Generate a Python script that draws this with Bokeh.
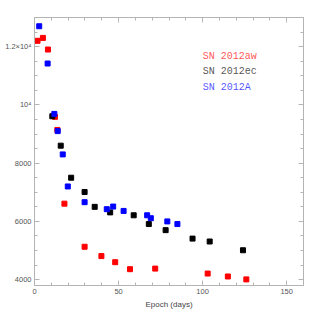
from bokeh.plotting import figure
from bokeh.models import LinearAxis, FixedTicker, Range1d, Label, ColumnDataSource
from bokeh.embed import file_html
from bokeh.resources import INLINE
import math

# ---- data ----
aw_epoch = [1.8, 5.0, 8.0, 12.2, 13.6, 17.8, 29.8, 39.8, 48.0, 56.8, 71.8, 103.0, 115.0, 126.0]
aw_temp = [12200, 12300, 11900, 9590, 9140, 6610, 5130, 4810, 4600, 4360, 4380, 4210, 4110, 4010]

ec_epoch = [10.6, 15.6, 21.8, 29.8, 35.8, 45.0, 59.0, 68.0, 78.0, 94.0, 104.2, 124.0]
ec_temp = [9610, 8600, 7500, 7010, 6500, 6310, 6210, 5910, 5700, 5410, 5310, 5010]

a_epoch = [2.8, 7.8, 11.8, 13.8, 16.8, 19.8, 29.8, 43.0, 46.8, 53.0, 67.0, 69.2, 79.0, 85.0]
a_temp = [12700, 11420, 9690, 9100, 8300, 7200, 6660, 6420, 6510, 6360, 6210, 6110, 6000, 5910]

series_names = ["SN 2012aw", "SN 2012ec", "SN 2012A"]
series_colors = ["#ff0000", "#000000", "#0000ff"]

x_ticks = [0, 50, 100, 150]
x_tick_labels = ["0", "50", "100", "150"]
x_minor = list(range(0, 161, 10))
y_ticks = [4000, 6000, 8000, 10000, 12000]
y_tick_labels = ["4000", "6000", "8000", "10\u2074", "1.2\u00d710\u2074"]
y_minor = list(range(4000, 13001, 500))

AX = "#b4b4b4"
TXT = "#555555"
FONT = "Liberation Sans"

p = figure(width=311, height=311, output_backend="svg", toolbar_location=None,
           x_range=Range1d(0, 160), y_range=Range1d(3800, 13000),
           min_border_left=34, min_border_right=8, min_border_top=17, min_border_bottom=26)
p.grid.visible = False
p.outline_line_color = None
p.background_fill_color = "white"
p.border_fill_color = "white"

bottom = p.below[0]
left = p.left[0]

xt = FixedTicker(ticks=x_ticks, minor_ticks=x_minor)
yt = FixedTicker(ticks=y_ticks, minor_ticks=y_minor)

top = LinearAxis(ticker=xt)
right = LinearAxis(ticker=yt)
p.add_layout(top, "above")
p.add_layout(right, "right")
bottom.ticker = xt
left.ticker = yt

for ax in [bottom, left, top, right]:
    ax.axis_line_color = AX
    ax.axis_line_width = 1
    ax.major_tick_line_color = AX
    ax.minor_tick_line_color = AX
    ax.major_tick_in = 5
    ax.major_tick_out = 0
    ax.minor_tick_in = 3
    ax.minor_tick_out = 0
    ax.major_label_text_font = FONT
    ax.major_label_text_font_size = "7.5px"
    ax.major_label_text_color = TXT
    ax.major_label_standoff = 3

top.major_label_overrides = {t: "" for t in x_ticks}
right.major_label_overrides = {t: "" for t in y_ticks}
top.major_label_standoff = 0
right.major_label_standoff = 0

bottom.major_label_overrides = {t: l for t, l in zip(x_ticks, x_tick_labels)}
left.major_label_overrides = {t: l for t, l in zip(y_ticks, y_tick_labels)}

bottom.axis_label = "Epoch (days)"
bottom.axis_label_text_font = FONT
bottom.axis_label_text_font_size = "8px"
bottom.axis_label_text_font_style = "normal"
bottom.axis_label_text_color = "#444444"
bottom.axis_label_standoff = 3

# y title drawn in the left border
p.add_layout(Label(x=-29, y=8400, x_units="screen", y_units="data", text="T [K]",
                   angle=math.pi / 2, text_align="center", text_baseline="middle",
                   text_font=FONT, text_font_size="8px", text_color="#444444"))

for ex, tp, c in [(aw_epoch, aw_temp, series_colors[0]),
                  (ec_epoch, ec_temp, series_colors[1]),
                  (a_epoch, a_temp, series_colors[2])]:
    src = ColumnDataSource(dict(x=ex, y=tp))
    p.scatter("x", "y", source=src, marker="square", size=5, fill_color=c, line_color=c)

legend_y = [11660, 11140, 10600]
for name, c, ly in zip(series_names, series_colors, legend_y):
    p.add_layout(Label(x=100, y=ly, text=name, text_font="Liberation Mono",
                       text_font_size="10px", text_color=c, text_baseline="middle",
                       text_alpha=0.7))

open("out.html", "w").write(file_html(p, INLINE))
